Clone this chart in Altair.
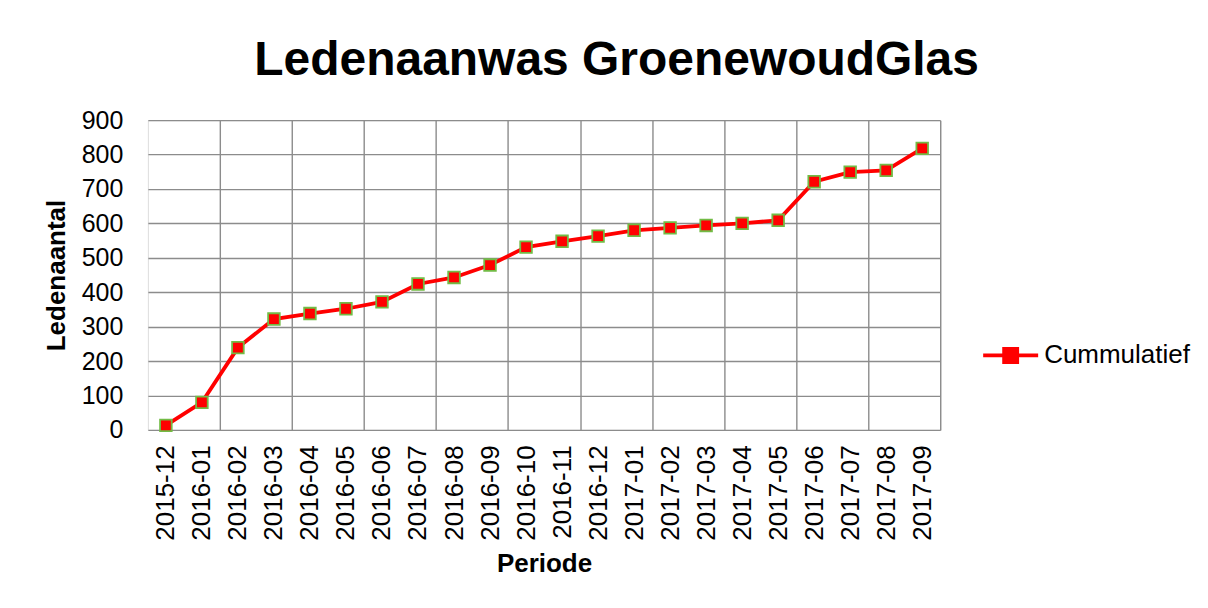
import altair as alt
import pandas as pd

periods = ["2015-12", "2016-01", "2016-02", "2016-03", "2016-04", "2016-05",
           "2016-06", "2016-07", "2016-08", "2016-09", "2016-10", "2016-11",
           "2016-12", "2017-01", "2017-02", "2017-03", "2017-04", "2017-05",
           "2017-06", "2017-07", "2017-08", "2017-09"]
cumulative = [13, 80, 239, 322, 338, 352, 372, 424, 443, 479, 531, 548,
              563, 580, 587, 594, 600, 609, 721, 749, 754, 818]
series_name = "Cummulatief"

df = pd.DataFrame({"Periode": periods, "Ledenaantal": cumulative,
                   "serie": [series_name] * len(periods)})

FONT = "Liberation Sans"
GRID = "#8c8c8c"

x_enc = alt.X("Periode:N", sort=periods,
              scale=alt.Scale(paddingInner=0, paddingOuter=0),
              axis=alt.Axis(title="Periode", labelAngle=-90, labelFontSize=26,
                            labelFont=FONT, labelColor="black", labelPadding=15,
                            labelBaseline="middle", labelAlign="right",
                            titleFontSize=26, titleFont=FONT, titleFontWeight="bold",
                            titleColor="black", titlePadding=10,
                            ticks=False, domain=False, grid=True,
                            tickBand="extent", gridColor=GRID, gridWidth=1.4,
                            gridOpacity=alt.ExprRef("indexof(domain('x'), datum.value) % 2 == 1 ? 1 : 0")))
y_enc = alt.Y("Ledenaantal:Q",
              scale=alt.Scale(domain=[0, 900], nice=False),
              axis=alt.Axis(title="Ledenaantal", values=list(range(0, 901, 100)),
                            labelFontSize=25, labelFont=FONT, labelColor="black",
                            labelPadding=25, titleFontSize=26, titleFont=FONT,
                            titleFontWeight="bold", titleColor="black", titlePadding=12,
                            ticks=False, domain=False, gridColor=GRID, gridWidth=1.4))

color_enc = alt.Color("serie:N", scale=alt.Scale(domain=[series_name], range=["#ff0000"]),
                      legend=alt.Legend(title=None, orient="none", legendX=844, legendY=216,
                                        labelFontSize=26, labelFont=FONT, labelColor="black",
                                        symbolType="M-1.6,0H1.6M-0.38,-0.38H0.38V0.38H-0.38Z",
                                        symbolFillColor="#ff0000", symbolStrokeColor="#ff0000",
                                        symbolStrokeWidth=3.8, symbolSize=1183, labelOffset=14))

base = alt.Chart(df).encode(x=x_enc, y=y_enc, color=color_enc)

line = base.mark_line(strokeWidth=3.8)
pts = base.mark_point(shape="square", filled=True, size=135, fill="#ff0000",
                      stroke="#72bb45", strokeWidth=1.8, opacity=1)

chart = (line + pts).properties(
    width=793, height=310,
    title=alt.TitleParams("Ledenaanwas GroenewoudGlas", fontSize=48, font=FONT,
                          fontWeight="bold", color="black", anchor="middle",
                          frame="bounds", offset=23),
    padding={"left": 35, "top": 29, "right": 10, "bottom": 10},
).configure_view(stroke=GRID, strokeWidth=1.4).configure(background="white")

chart.save("out.html", embed_options={"renderer": "svg", "actions": False})
